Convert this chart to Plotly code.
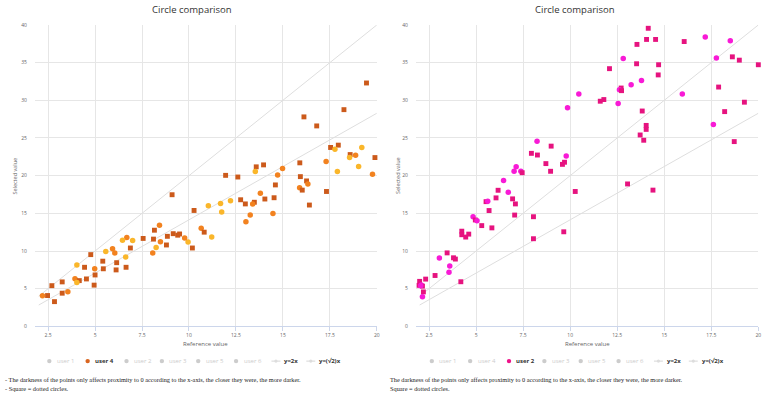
import plotly.graph_objects as go

W, H = 768, 398

# ---------------- data ----------------
# left chart: user 4  (kind: s = dark square, c = orange circle, y = yellow circle)
user4_x = [19.45, 18.25, 16.12, 16.8, 17.54, 17.95, 17.77, 19.2, 18.58, 18.87, 18.55, 19.9,
           19.03, 19.77, 17.3, 17.9, 17.32, 15.9, 15.93, 16.26, 16.33, 15.89, 16.03, 16.41,
           11.95, 12.6, 13.58, 13.97, 13.53, 14.98, 14.72, 14.6, 13.8, 12.75, 13.0, 13.48,
           13.39, 14.04, 14.53, 12.21, 13.26, 13.03, 14.47, 9.1, 10.27, 11.03, 11.68, 11.74,
           10.65, 10.81, 11.21, 10.18, 9.95, 9.77, 9.5, 9.4, 9.16, 8.85, 8.8, 8.48,
           8.43, 8.16, 8.11, 8.25, 8.07, 7.56, 7.0, 6.88, 6.69, 6.46, 6.63, 6.65,
           6.15, 6.12, 6.05, 5.93, 5.57, 5.41, 5.44, 4.98, 5.0, 4.95, 4.77, 4.44,
           4.54, 4.03, 3.93, 4.16, 4.03, 3.55, 3.25, 3.25, 2.7, 2.84, 2.47, 2.2]
user4_y = [32.3, 28.76, 27.8, 26.6, 23.74, 24.05, 23.5, 23.74, 22.8, 22.7, 22.4, 22.4,
           21.2, 20.2, 21.87, 20.56, 17.9, 21.7, 19.87, 19.3, 18.9, 18.38, 18.08, 16.1,
           20.04, 19.82, 21.17, 21.43, 20.56, 20.96, 20.1, 18.77, 17.65, 16.8, 16.25, 16.47,
           16.25, 16.9, 17.07, 16.67, 14.77, 13.87, 14.98, 17.47, 15.38, 16.0, 16.3, 15.16,
           13.03, 12.5, 11.87, 10.4, 11.2, 11.74, 12.26, 12.1, 12.3, 11.95, 10.8, 11.24,
           13.43, 12.76, 11.58, 10.45, 9.73, 11.67, 11.41, 10.4, 11.8, 11.43, 9.21, 7.84,
           8.45, 7.49, 9.75, 10.3, 9.93, 8.65, 7.64, 7.66, 6.82, 5.47, 9.52, 7.84,
           6.29, 8.14, 6.31, 6.07, 5.81, 4.59, 4.4, 5.9, 5.4, 3.28, 4.09, 4.05]
user4_kind = ["s", "s", "s", "s", "s", "s", "y", "y", "s", "c", "y", "s",
              "y", "c", "c", "y", "s", "s", "s", "s", "c", "c", "s", "s",
              "s", "s", "s", "s", "y", "c", "c", "s", "c", "s", "s", "s",
              "c", "s", "s", "y", "c", "c", "c", "s", "s", "y", "y", "y",
              "c", "s", "y", "s", "y", "c", "s", "s", "s", "s", "s", "c",
              "c", "s", "s", "y", "c", "s", "y", "s", "c", "y", "y", "s",
              "s", "s", "c", "c", "y", "s", "s", "c", "s", "s", "s", "s",
              "s", "y", "c", "s", "y", "c", "s", "s", "s", "s", "s", "c"]

# right chart: user 2  (kind: s = square, c = circle)
user2_x = [14.15, 14.06, 14.54, 13.55, 16.06, 17.18, 18.51, 18.62, 18.99, 17.77, 20.0, 17.89,
           15.96, 19.26, 18.21, 17.61, 18.72, 12.82, 13.53, 14.7, 14.68, 12.09, 13.24, 13.79,
           12.71, 12.62, 12.73, 11.79, 11.6, 12.55, 10.46, 9.86, 13.83, 14.04, 14.04, 13.72,
           13.91, 8.24, 8.99, 7.94, 8.26, 9.79, 8.71, 9.7, 9.59, 7.13, 7.02, 7.38,
           7.45, 8.96, 6.46, 13.05, 10.27, 14.4, 6.17, 6.71, 6.06, 6.94, 7.09, 5.53,
           5.62, 5.69, 7.05, 8.05, 4.84, 4.96, 5.05, 5.3, 5.84, 4.24, 4.24, 4.61,
           4.45, 8.05, 9.66, 3.46, 3.05, 3.8, 3.9, 3.6, 3.56, 2.82, 4.19, 2.32,
           2.0, 1.97, 2.09, 2.15, 2.06, 2.2, 2.15]
user2_y = [39.56, 38.08, 38.08, 37.42, 37.8, 38.4, 37.92, 35.77, 35.33, 35.63, 34.72, 31.76,
           30.85, 29.75, 28.5, 26.8, 24.52, 35.55, 34.85, 34.72, 33.37, 34.2, 32.07, 32.63,
           31.63, 31.41, 31.28, 30.1, 29.88, 29.58, 30.85, 29.02, 28.58, 26.67, 26.14, 25.4,
           24.7, 24.57, 23.92, 22.96, 22.74, 22.61, 21.6, 21.78, 21.5, 21.17, 20.6, 20.6,
           20.39, 20.58, 19.35, 18.9, 17.9, 18.08, 18.06, 17.8, 17.05, 16.92, 16.25, 16.55,
           16.6, 15.37, 14.77, 14.55, 14.55, 14.12, 14.0, 13.37, 13.07, 12.63, 12.16, 12.24,
           11.85, 11.63, 12.55, 9.75, 9.06, 9.1, 8.93, 8.01, 7.19, 6.75, 5.92, 6.27,
           5.97, 5.44, 5.48, 5.34, 5.4, 4.57, 3.92]
user2_kind = ["s", "s", "s", "s", "s", "c", "c", "s", "s", "c", "s", "s",
              "c", "s", "s", "c", "s", "c", "s", "s", "s", "s", "c", "c",
              "s", "c", "s", "s", "s", "c", "c", "c", "s", "s", "s", "s",
              "s", "c", "s", "s", "s", "c", "s", "s", "s", "c", "c", "c",
              "s", "s", "c", "s", "s", "s", "s", "c", "s", "s", "s", "s",
              "c", "s", "s", "s", "c", "s", "c", "s", "s", "s", "s", "s",
              "s", "s", "s", "s", "c", "s", "s", "c", "c", "s", "s", "s",
              "s", "s", "c", "s", "c", "s", "c"]

legend_names = ["user 1", "user 4", "user 2", "user 3", "user 5", "user 6", "y=2x", "y=(√2)x"]
ref_x = [2, 20]
ref_y_2x = [4, 40]
ref_y_sqrt2x = [2.828, 28.284]

x_ticks = [2.5, 5, 7.5, 10, 12.5, 15, 17.5, 20]
x_ticktext = ["2.5", "5", "7.5", "10", "12.5", "15", "17.5", "20"]
y_ticks = [0, 5, 10, 15, 20, 25, 30, 35, 40]

# ---------------- styling ----------------
orange_cols = {"s": "#cc5a1b", "c": "#f2821f", "y": "#fab62a"}
pink_cols = {"s": "#e6137f", "c": "#f81ad6"}
sym = {"s": "square", "c": "circle", "y": "circle"}
GRID = "#e6e6e6"
REF = "#dedede"
FONT = "Open Sans"

fig = go.Figure()

for xa, ya in (("x", "y"), ("x2", "y2")):
    fig.add_trace(go.Scatter(x=ref_x, y=ref_y_2x, mode="lines", xaxis=xa, yaxis=ya, name="y=2x",
                             line=dict(color=REF, width=1), showlegend=False, hoverinfo="skip"))
    fig.add_trace(go.Scatter(x=ref_x, y=ref_y_sqrt2x, mode="lines", xaxis=xa, yaxis=ya, name="y=(√2)x",
                             line=dict(color=REF, width=1), showlegend=False, hoverinfo="skip"))

fig.add_trace(go.Scatter(
    x=user4_x, y=user4_y, mode="markers", xaxis="x", yaxis="y", cliponaxis=False, name="user 4",
    marker=dict(color=[orange_cols[k] for k in user4_kind],
                symbol=[sym[k] for k in user4_kind],
                size=[4.9 if k == "s" else 5.5 for k in user4_kind],
                opacity=1, line=dict(width=0)),
    showlegend=False, hoverinfo="x+y"))
fig.add_trace(go.Scatter(
    x=user2_x, y=user2_y, mode="markers", xaxis="x2", yaxis="y2", cliponaxis=False, name="user 2",
    marker=dict(color=[pink_cols[k] for k in user2_kind],
                symbol=[sym[k] for k in user2_kind],
                size=[4.9 if k == "s" else 5.5 for k in user2_kind],
                opacity=1, line=dict(width=0)),
    showlegend=False, hoverinfo="x+y"))

PX = lambda p: p / W
PY = lambda p: 1 - p / H

XL = (35.1, 378.3)
XR = (417.5, 761.3)
YD = (PY(328.3), PY(22.3))

axis_common_x = dict(range=[1.8, 20], tickvals=x_ticks, ticktext=x_ticktext,
                     showgrid=True, gridcolor=GRID, gridwidth=1, zeroline=False,
                     showline=True, linecolor="#ccd6eb", linewidth=1,
                     ticks="outside", ticklen=4, tickcolor="#ccd6eb",
                     tickfont=dict(family=FONT, size=5, color="#666666"), fixedrange=True)
axis_common_y = dict(range=[0, 40], tickvals=y_ticks,
                     showgrid=True, gridcolor=GRID, gridwidth=1, zeroline=False,
                     showline=False, ticks="", ticklabelstandoff=7,
                     tickfont=dict(family=FONT, size=5, color="#666666"), fixedrange=True)

fig.update_layout(
    width=W, height=H, margin=dict(l=0, r=0, t=0, b=0),
    paper_bgcolor="white", plot_bgcolor="white", showlegend=False,
    xaxis=dict(domain=[PX(XL[0]), PX(XL[1])], anchor="y", **axis_common_x),
    yaxis=dict(domain=list(YD), anchor="x", **axis_common_y),
    xaxis2=dict(domain=[PX(XR[0]), PX(XR[1])], anchor="y2", **axis_common_x),
    yaxis2=dict(domain=list(YD), anchor="x2", **axis_common_y),
)

annotations = []
shapes = []


def txt(x, y, text, size, color="#333333", family=FONT, xanchor="center", yanchor="middle", angle=0):
    annotations.append(dict(x=PX(x), y=PY(y), xref="paper", yref="paper", text=text,
                            showarrow=False, xanchor=xanchor, yanchor=yanchor, textangle=angle,
                            font=dict(family=family, size=size, color=color)))


for off, plot_x in ((0, XL), (384, XR)):
    cx = (plot_x[0] + plot_x[1]) / 2
    txt(off + 193, 6.5, "Circle comparison", 9.5, "#333333")
    txt(cx, 346.5, "Reference value", 6, "#666666")
    txt(off + 15, 175.3, "Selected value", 5.5, "#666666", angle=-90)

# legends
LEG_Y = 363.6
HID = "#cccccc"
dot_pos = [49.5, 88, 127, 162.5, 199, 237]
line_pos = [277, 312]


def legend(off, active, active_col):
    for i, name in enumerate(legend_names[:6]):
        dx = off + dot_pos[i]
        on = (name == active)
        col = active_col if on else HID
        shapes.append(dict(type="circle", xref="paper", yref="paper",
                           x0=PX(dx - 2.2), x1=PX(dx + 2.2), y0=PY(LEG_Y + 2.2), y1=PY(LEG_Y - 2.2),
                           fillcolor=col, line=dict(width=0)))
        txt(dx + 5.5, LEG_Y, ("<b>%s</b>" % name) if on else name, 6,
            "#333333" if on else HID, xanchor="left")
    for j, name in enumerate(legend_names[6:]):
        cx = off + line_pos[j]
        shapes.append(dict(type="line", xref="paper", yref="paper",
                           x0=PX(cx - 4.5), x1=PX(cx + 4.5), y0=PY(LEG_Y), y1=PY(LEG_Y),
                           line=dict(color="#dddddd", width=1.2)))
        shapes.append(dict(type="circle", xref="paper", yref="paper",
                           x0=PX(cx - 1.6), x1=PX(cx + 1.6), y0=PY(LEG_Y + 1.6), y1=PY(LEG_Y - 1.6),
                           fillcolor="#dddddd", line=dict(width=0)))
        txt(cx + 6.5, LEG_Y, "<b>%s</b>" % name, 6, "#333333", xanchor="left")


legend(0, "user 4", "#d9651f")
legend(384, "user 2", "#ee1289")

# footnotes
SERIF = "Liberation Serif"
FN = 6.3
txt(3.5, 382.3, "- The darkness of the points only affects proximity to 0 according to the x-axis, the closer they were, the more darker.",
    FN, "#222222", family=SERIF, xanchor="left")
txt(3.5, 391.2, "- Square = dotted circles.", FN, "#222222", family=SERIF, xanchor="left")
txt(389.5, 382.3, "The darkness of the points only affects proximity to 0 according to the x-axis, the closer they were, the more darker.",
    FN, "#222222", family=SERIF, xanchor="left")
txt(389.5, 391.2, "Square = dotted circles.", FN, "#222222", family=SERIF, xanchor="left")

fig.update_layout(annotations=annotations, shapes=shapes)

fig.write_html("out.html", config={"displayModeBar": False},
               post_script="document.body.style.margin='0';document.body.style.overflow='hidden';")
